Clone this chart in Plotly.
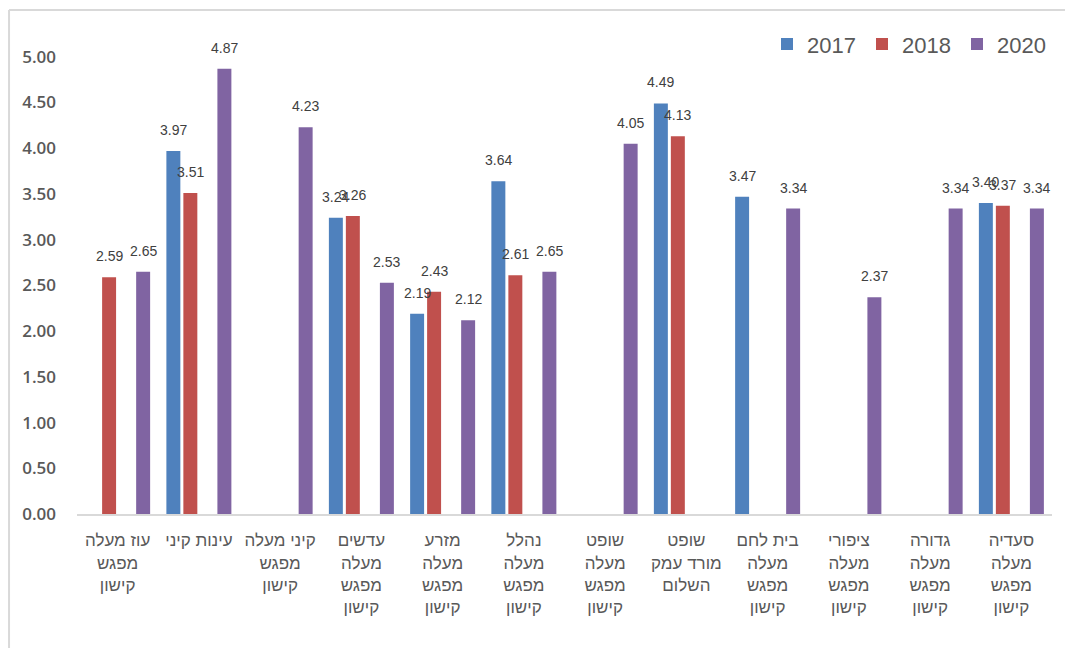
import plotly.graph_objects as go

categories = [
    "עוז מעלה<br>מפגש<br>קישון",
    "עינות קיני",
    "קיני מעלה<br>מפגש<br>קישון",
    "עדשים<br>מעלה<br>מפגש<br>קישון",
    "מזרע<br>מעלה<br>מפגש<br>קישון",
    "נהלל<br>מעלה<br>מפגש<br>קישון",
    "שופט<br>מעלה<br>מפגש<br>קישון",
    "שופט<br>מורד עמק<br>השלום",
    "בית לחם<br>מעלה<br>מפגש<br>קישון",
    "ציפורי<br>מעלה<br>מפגש<br>קישון",
    "גדורה<br>מעלה<br>מפגש<br>קישון",
    "סעדיה<br>מעלה<br>מפגש<br>קישון",
]

v2017 = [None, 3.97, None, 3.24, 2.19, 3.64, None, 4.49, 3.47, None, None, 3.40]
v2018 = [2.59, 3.51, None, 3.26, 2.43, 2.61, None, 4.13, None, None, None, 3.37]
v2020 = [2.65, 4.87, 4.23, 2.53, 2.12, 2.65, 4.05, None, 3.34, 2.37, 3.34, 3.34]

series = [
    ("2017", v2017, "#4F81BD", -0.314),
    ("2018", v2018, "#C0504D", -0.105),
    ("2020", v2020, "#8064A2", 0.314),
]
bar_w = 0.172

fig = go.Figure()
annotations = []
for name, vals, color, center in series:
    fig.add_trace(go.Bar(
        x=categories, y=vals, name=name,
        marker=dict(color=color, line=dict(width=0)),
        offset=center - bar_w / 2, width=bar_w,
        hoverinfo="y",
    ))
    for i, v in enumerate(vals):
        if v is None:
            continue
        annotations.append(dict(
            x=i + center, y=v, xref="x", yref="y",
            text=f"{v:.2f}", showarrow=False,
            yshift=21, yanchor="middle", xanchor="center",
            font=dict(family="Arial", size=14, color="#404040"),
        ))

shapes = [
    dict(type="line", xref="paper", yref="paper",
         x0=-0.0697, x1=-0.0697, y0=1.004, y1=-0.3,
         line=dict(color="#d9d9d9", width=2)),
    dict(type="line", xref="paper", yref="paper",
         x0=-0.0697, x1=1.02, y0=1.004, y1=1.004,
         line=dict(color="#d9d9d9", width=2)),
]

fig.update_layout(
    width=1065, height=648,
    margin=dict(l=77, r=13, t=12, b=134),
    paper_bgcolor="white", plot_bgcolor="white",
    barmode="group",
    showlegend=True,
    legend=dict(
        orientation="h",
        x=1.0, xanchor="right", y=0.936, yanchor="middle",
        font=dict(family="Arial", size=22, color="#595959"),
        entrywidth=50, bgcolor="rgba(0,0,0,0)",
    ),
    annotations=annotations,
    shapes=shapes,
    xaxis=dict(
        type="category", range=[-0.5, 11.5], tickangle=0,
        showline=True, linecolor="#d9d9d9", linewidth=2,
        showgrid=False, ticks="", ticklabelstandoff=10,
        tickfont=dict(family="Arial", size=17, color="#595959"),
        automargin=False,
    ),
    yaxis=dict(
        range=[0, 5.49], dtick=0.5, tick0=0, tickformat=".2f",
        showgrid=False, zeroline=False, showline=False, ticks="",
        ticklabelstandoff=20, automargin=False,
        tickfont=dict(family="Open Sans", size=17, color="#595959", weight=600),
    ),
)

fig.write_html("out.html")
